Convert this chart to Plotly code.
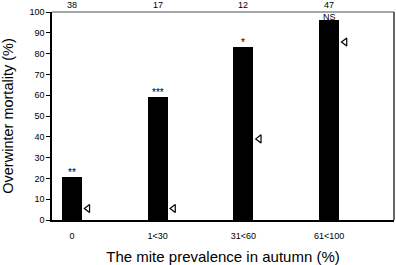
import plotly.graph_objects as go

categories = ["0", "1<30", "31<60", "61<100"]
mortality = [20.5, 59, 83.3, 96.2]
expected = [5.5, 5.5, 39, 85.6]
significance = ["**", "***", "*", "NS"]
counts = ["38", "17", "12", "47"]

xpos = list(range(len(categories)))
FONT = "Liberation Sans, Arial, sans-serif"

fig = go.Figure()
fig.add_trace(go.Bar(x=xpos, y=mortality, width=0.235,
                     marker=dict(color="black", line=dict(width=0)),
                     showlegend=False))
fig.add_trace(go.Scatter(x=[p + 0.185 for p in xpos], y=expected, mode="markers",
                         marker=dict(symbol="triangle-left-open", size=7,
                                     color="black", line=dict(width=1.2, color="black")),
                         showlegend=False))

for p, v, s in zip(xpos, mortality, significance):
    fig.add_annotation(x=p, y=v, text=s, showarrow=False, yanchor="bottom",
                       yshift=-3 if s != "NS" else -4,
                       font=dict(size=9 if s == "NS" else 10, family=FONT, color="#000000"))
for p, c in zip(xpos, counts):
    fig.add_annotation(x=p, y=1, xref="x", yref="paper", text=c, showarrow=False,
                       yanchor="bottom", yshift=0,
                       font=dict(size=9, family=FONT, color="#000000"))

fig.add_shape(type="line", xref="paper", yref="paper", x0=0, x1=1, y0=1, y1=1,
              line=dict(color="#888888", width=1.5))
fig.add_shape(type="line", xref="paper", yref="paper", x0=1, x1=1, y0=0, y1=1,
              line=dict(color="black", width=1.2))

fig.update_layout(
    template="none",
    width=396, height=265,
    margin=dict(l=52, r=2, t=12, b=45, autoexpand=False),
    paper_bgcolor="white", plot_bgcolor="white",
    font=dict(family=FONT, color="black"),
    bargap=0,
    xaxis=dict(range=[-0.233, 3.757], tickmode="array", tickvals=xpos,
               ticktext=categories, showline=True, linecolor="black", linewidth=1.5,
               showgrid=False, zeroline=False, ticks="outside", ticklen=6,
               tickcolor="rgba(0,0,0,0)", automargin=False,
               tickfont=dict(size=9, family=FONT, color="black"),
               title=dict(text="The mite prevalence in autumn (%)",
                          font=dict(size=15, family=FONT, color="black"), standoff=13)),
    yaxis=dict(range=[0, 100], tickmode="array", tickvals=list(range(0, 101, 10)),
               showline=True, linecolor="black", linewidth=1.5, automargin=False,
               showgrid=False, zeroline=False, ticks="outside", ticklen=4,
               tickcolor="black", tickwidth=1,
               tickfont=dict(size=9, family=FONT, color="black"),
               title=dict(text="Overwinter mortality (%)",
                          font=dict(size=14.5, family=FONT, color="black"), standoff=13)),
)

fig.write_html("out.html", config={"displayModeBar": False},
               post_script="document.body.style.margin='0';")
